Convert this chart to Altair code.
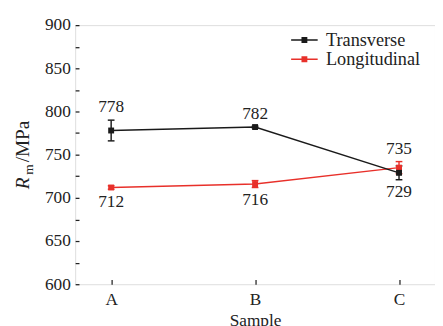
import altair as alt
import pandas as pd
import numpy as np

samples = ["A", "B", "C"]
series_names = ["Transverse", "Longitudinal"]
transverse = [778, 782, 729]
transverse_err = [12, 1, 8]
longitudinal = [712, 716, 735]
longitudinal_err = [2, 4, 7]
y_major = [600, 650, 700, 750, 800, 850, 900]
y_minor = [600, 625, 650, 675, 700, 725, 750, 775, 800, 825, 850, 875, 900]

rows = []
for s, t, te, l, le in zip(samples, transverse, transverse_err, longitudinal, longitudinal_err):
    rows.append(dict(sample=s, series="Longitudinal", value=l, err=le, other=t))
    rows.append(dict(sample=s, series="Transverse", value=t, err=te, other=l))
df = pd.DataFrame(rows)
df["lo"] = df["value"] - df["err"]
df["hi"] = df["value"] + df["err"]
df["pos"] = np.where(df["value"] > df["other"], "above", "below")
df["label_y"] = np.where(df["pos"] == "above", df["hi"], df["lo"])

W, H = 375, 270
FONT = "Liberation Serif"
INK = "#222222"
BLACK = "#1a1a1a"
RED = "#e8302a"

xs = alt.Scale(type="point", padding=0.25, domain=samples)
ys = alt.Scale(domain=[600, 900], nice=False, zero=False)
cscale = alt.Scale(domain=series_names, range=[BLACK, RED])
color_nl = alt.Color("series:N", scale=cscale, legend=None)

# legend symbol: a short line with a small (stroke-filled) square in the middle
sym_path = "M-3,0H3M-0.5,-0.5H0.5V0.5H-0.5ZM-0.2,-0.2H0.2V0.2H-0.2Z"

legend = alt.Legend(
    orient="none", legendX=220, legendY=6, title=None,
    symbolType=sym_path, symbolSize=85, symbolStrokeWidth=1.5,
    symbolFillColor="transparent",
    rowPadding=0, padding=0, symbolOffset=9.4,
    labelFont=FONT, labelFontSize=19, labelColor=INK, labelOffset=13,
    symbolOpacity=1,
)

x_bottom = alt.Axis(orient="bottom", title="Sample", ticks=False, tickSize=0, domain=False,
                    labelPadding=7, labelAngle=0, labelFont=FONT, labelFontSize=18,
                    labelColor=INK, titleFont=FONT, titleFontSize=18,
                    titleFontWeight="normal", titlePadding=4, titleColor=INK, grid=False)
y_left = alt.Axis(orient="left", values=y_major, title=None, ticks=False, tickSize=0,
                  domain=False, labelPadding=5, labelFont=FONT, labelFontSize=18,
                  labelColor=INK, grid=False)
x_top = alt.Axis(orient="top", offset=-H, labels=False, ticks=True, tickSize=5,
                 tickColor=INK, tickWidth=1.3, domain=False, title=None, grid=False)
y_right = alt.Axis(orient="right", offset=-W, values=y_minor, labels=False, ticks=True,
                   tickSize=4, tickColor=INK, tickWidth=1.3, domain=False, title=None,
                   grid=False)

base = alt.Chart(df)

line = base.mark_line(strokeWidth=1.5).encode(
    x=alt.X("sample:N", scale=xs, axis=x_bottom),
    y=alt.Y("value:Q", scale=ys, axis=y_left),
    color=alt.Color("series:N", scale=cscale, legend=legend),
)

errs = base.mark_rule(strokeWidth=1.5).encode(
    x=alt.X("sample:N", scale=xs, axis=None),
    y=alt.Y("lo:Q", scale=ys, axis=None),
    y2="hi:Q",
    color=color_nl,
)
cap_lo = base.mark_tick(orient="horizontal", size=7, thickness=1.5, opacity=1).encode(
    x=alt.X("sample:N", scale=xs, axis=None),
    y=alt.Y("lo:Q", scale=ys, axis=None),
    color=color_nl,
)
cap_hi = base.mark_tick(orient="horizontal", size=7, thickness=1.5, opacity=1).encode(
    x=alt.X("sample:N", scale=xs, axis=None),
    y=alt.Y("hi:Q", scale=ys, axis=None),
    color=color_nl,
)
pts = base.mark_square(size=38, opacity=1, filled=True).encode(
    x=alt.X("sample:N", scale=xs, axis=x_top),
    y=alt.Y("value:Q", scale=ys, axis=y_right),
    color=color_nl,
)

lab_above = base.transform_filter("datum.pos == 'above'").mark_text(
    dy=-13, baseline="middle", font=FONT, fontSize=18, color=INK
).encode(
    x=alt.X("sample:N", scale=xs, axis=None),
    y=alt.Y("label_y:Q", scale=ys, axis=None),
    text="value:Q",
)
lab_below = base.transform_filter("datum.pos == 'below'").mark_text(
    dy=13, baseline="middle", font=FONT, fontSize=18, color=INK
).encode(
    x=alt.X("sample:N", scale=xs, axis=None),
    y=alt.Y("label_y:Q", scale=ys, axis=None),
    text="value:Q",
)

# y-axis title: R (italic) + subscript m + /MPa
t_r = alt.Chart(pd.DataFrame({"t": ["R"]})).mark_text(
    angle=270, align="left", baseline="alphabetic", font=FONT, fontSize=20,
    fontStyle="italic", color=INK
).encode(x=alt.value(-48), y=alt.value(171), text="t:N")
t_m = alt.Chart(pd.DataFrame({"t": ["m"]})).mark_text(
    angle=270, align="left", baseline="alphabetic", font=FONT, fontSize=14, color=INK
).encode(x=alt.value(-44), y=alt.value(156), text="t:N")
t_u = alt.Chart(pd.DataFrame({"t": ["/MPa"]})).mark_text(
    angle=270, align="left", baseline="alphabetic", font=FONT, fontSize=20, color=INK
).encode(x=alt.value(-48), y=alt.value(143), text="t:N")

chart = alt.layer(
    line, errs, cap_lo, cap_hi, pts, lab_above, lab_below, t_r, t_m, t_u
).properties(
    width=W, height=H,
    autosize=alt.AutoSizeParams(type="none"),
    padding={"left": 70, "top": 11, "right": 0, "bottom": 45},
).configure_view(
    stroke=INK, strokeWidth=1.3
).configure(background="white")

chart.save("out.html", embed_options={"renderer": "svg", "actions": False})
